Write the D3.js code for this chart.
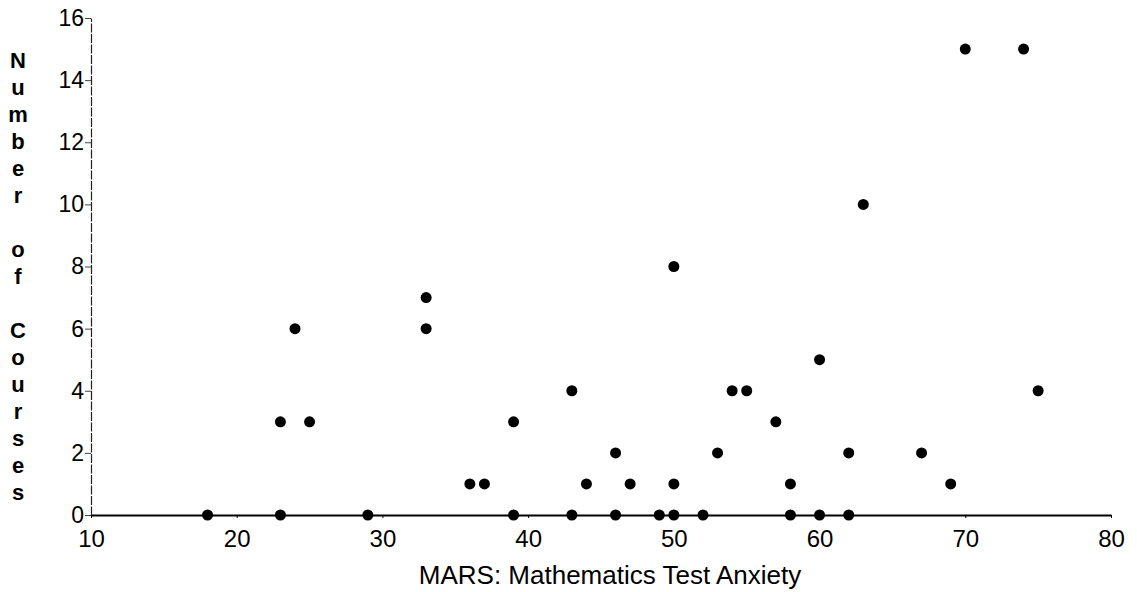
<!DOCTYPE html>
<html>
<head>
<meta charset="utf-8">
<script src="https://cdn.jsdelivr.net/npm/d3@7"></script>
<style>
  body { margin: 0; background: #fff; }
  svg { display: block; }
</style>
</head>
<body>
<svg id="chart" width="1137" height="592"></svg>
<script>
// MARS score vs number of maths courses taken
const marsScores   = [18, 23, 23, 24, 25, 29, 33, 33, 36, 37, 39, 39, 43, 43, 44, 46, 46, 47, 49,
                      50, 50, 50, 52, 53, 54, 55, 57, 58, 58, 60, 60, 62, 62, 63, 67, 69, 70, 74, 75];
const courseCounts = [ 0,  0,  3,  6,  3,  0,  7,  6,  1,  1,  3,  0,  4,  0,  1,  2,  0,  1,  0,
                       8,  1,  0,  0,  2,  4,  4,  3,  1,  0,  5,  0,  2,  0, 10,  2,  1, 15, 15,  4];
const xTicks = [10, 20, 30, 40, 50, 60, 70, 80];
const yTicks = [0, 2, 4, 6, 8, 10, 12, 14, 16];
const xTitle = 'MARS: Mathematics Test Anxiety';
const yTitleLetters = ['N','u','m','b','e','r','','o','f','','C','o','u','r','s','e','s'];

const CONFIG = {
  left   : 91,
  right  : 1111,
  top    : 18,
  bottom : 515,
  dotR   : 5.5,
  font   : '"Liberation Sans", Arial, sans-serif'
};

const svg = d3.select('#chart');

const x = d3.scaleLinear().domain([10, 80]).range([CONFIG.left, CONFIG.right]);
const y = d3.scaleLinear().domain([0, 16]).range([CONFIG.bottom, CONFIG.top]);

// ---------- y axis (thin, broken-looking line) ----------
const gy = svg.append('g')
  .attr('transform', `translate(${CONFIG.left},0)`)
  .call(d3.axisLeft(y).tickValues(yTicks).tickSize(6).tickPadding(1).tickSizeOuter(0));
gy.select('.domain').attr('stroke', '#222').attr('stroke-width', 1.2).attr('stroke-dasharray', '9,1.5');
gy.selectAll('.tick line').attr('stroke', '#444').attr('stroke-width', 1);
gy.selectAll('.tick text')
  .attr('font-family', CONFIG.font)
  .attr('font-size', 23)
  .attr('fill', '#000');

// ---------- x axis (solid) ----------
const gx = svg.append('g')
  .attr('transform', `translate(0,${CONFIG.bottom})`)
  .call(d3.axisBottom(x).tickValues(xTicks).tickSize(3).tickPadding(12).tickSizeOuter(0));
gx.select('.domain').attr('stroke', '#000').attr('stroke-width', 2);
gx.selectAll('.tick line').attr('stroke', '#000').attr('stroke-width', 1);
gx.selectAll('.tick text')
  .attr('font-family', CONFIG.font)
  .attr('font-size', 24)
  .attr('fill', '#000');

// ---------- titles ----------
svg.append('text')
  .attr('x', 610)
  .attr('y', 584)
  .attr('text-anchor', 'middle')
  .attr('font-family', CONFIG.font)
  .attr('font-size', 26)
  .attr('fill', '#000')
  .text(xTitle);

const yTitle = svg.append('text')
  .attr('font-family', CONFIG.font)
  .attr('font-size', 22)
  .attr('font-weight', 700)
  .attr('text-anchor', 'middle')
  .attr('fill', '#000');
yTitle.selectAll('tspan')
  .data(yTitleLetters)
  .enter()
  .append('tspan')
    .attr('x', 18)
    .attr('y', (d, i) => 68 + i * 27)
    .text(d => d);

// ---------- dots ----------
const points = marsScores.map((m, i) => ({ m, c: courseCounts[i] }));
svg.append('g')
  .selectAll('circle')
  .data(points)
  .enter()
  .append('circle')
    .attr('cx', d => x(d.m))
    .attr('cy', d => y(d.c))
    .attr('r', CONFIG.dotR)
    .attr('fill', '#000');
</script>
</body>
</html>
